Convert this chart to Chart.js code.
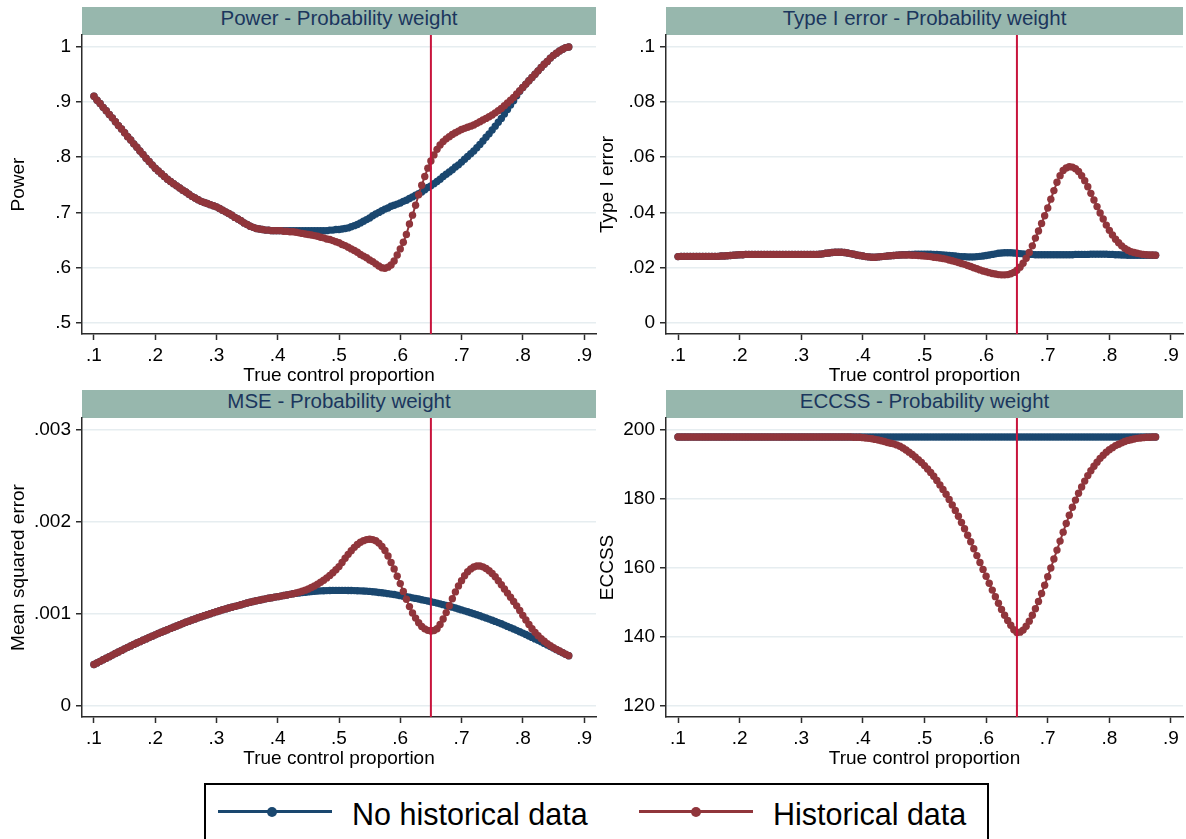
<!DOCTYPE html>
<html>
<head>
<meta charset="utf-8">
<script src="https://cdn.jsdelivr.net/npm/chart.js@4.4.0/dist/chart.umd.min.js"></script>
<style>
    body {
        margin: 0;
        width: 1186px;
        height: 839px;
        overflow: hidden;
        position: relative;
        background: #fff;
        font-family: 'Liberation Sans', Arial, sans-serif;
    }
    canvas { position: absolute; }
    .band {
        position: absolute;
        height: 28px;
        background: #97b7ad;
        color: #1b365d;
        font-size: 20.5px;
        line-height: 22px;
        text-align: center;
    }
    #legendBox {
        position: absolute;
        left: 204px;
        top: 783px;
        width: 781px;
        height: 80px;
        border: 2px solid #000;
    }
    .key-line { position: absolute; height: 3px; top: 810px; width: 114px; }
    .key-dot { position: absolute; width: 10px; height: 10px; border-radius: 50%; top: 807px; }
    .key-text { position: absolute; top: 797px; font-size: 30.5px; line-height: 34px; color: #000; white-space: nowrap; }
</style>
</head>
<body>
<div class="band" style="left:82px;top:7px;width:514px;">Power - Probability weight</div>
<div class="band" style="left:666px;top:7px;width:517px;">Type I error - Probability weight</div>
<div class="band" style="left:82px;top:390px;width:514px;">MSE - Probability weight</div>
<div class="band" style="left:666px;top:390px;width:517px;">ECCSS - Probability weight</div>

<canvas id="powerChart" width="616" height="375" style="left:0px;top:15px;"></canvas>
<canvas id="typeIChart" width="614" height="375" style="left:589px;top:15px;"></canvas>
<canvas id="mseChart" width="616" height="375" style="left:0px;top:398px;"></canvas>
<canvas id="eccssChart" width="614" height="375" style="left:589px;top:398px;"></canvas>

<div id="legendBox"></div>
<div class="key-line" style="left:218px;background:#1a476f;"></div>
<div class="key-dot" style="left:267px;background:#1a476f;"></div>
<div class="key-text" style="left:352px;">No historical data</div>
<div class="key-line" style="left:639px;background:#90353b;"></div>
<div class="key-dot" style="left:691px;background:#90353b;"></div>
<div class="key-text" style="left:773px;">Historical data</div>

<script>
// True control proportion (0.100 to 0.875 by 0.005)
const xValues = [
    0.100, 0.105, 0.110, 0.115, 0.120, 0.125, 0.130, 0.135, 0.140, 0.145,
    0.150, 0.155, 0.160, 0.165, 0.170, 0.175, 0.180, 0.185, 0.190, 0.195,
    0.200, 0.205, 0.210, 0.215, 0.220, 0.225, 0.230, 0.235, 0.240, 0.245,
    0.250, 0.255, 0.260, 0.265, 0.270, 0.275, 0.280, 0.285, 0.290, 0.295,
    0.300, 0.305, 0.310, 0.315, 0.320, 0.325, 0.330, 0.335, 0.340, 0.345,
    0.350, 0.355, 0.360, 0.365, 0.370, 0.375, 0.380, 0.385, 0.390, 0.395,
    0.400, 0.405, 0.410, 0.415, 0.420, 0.425, 0.430, 0.435, 0.440, 0.445,
    0.450, 0.455, 0.460, 0.465, 0.470, 0.475, 0.480, 0.485, 0.490, 0.495,
    0.500, 0.505, 0.510, 0.515, 0.520, 0.525, 0.530, 0.535, 0.540, 0.545,
    0.550, 0.555, 0.560, 0.565, 0.570, 0.575, 0.580, 0.585, 0.590, 0.595,
    0.600, 0.605, 0.610, 0.615, 0.620, 0.625, 0.630, 0.635, 0.640, 0.645,
    0.650, 0.655, 0.660, 0.665, 0.670, 0.675, 0.680, 0.685, 0.690, 0.695,
    0.700, 0.705, 0.710, 0.715, 0.720, 0.725, 0.730, 0.735, 0.740, 0.745,
    0.750, 0.755, 0.760, 0.765, 0.770, 0.775, 0.780, 0.785, 0.790, 0.795,
    0.800, 0.805, 0.810, 0.815, 0.820, 0.825, 0.830, 0.835, 0.840, 0.845,
    0.850, 0.855, 0.860, 0.865, 0.870, 0.875
];

const powerNoHist = [
    0.910, 0.903, 0.897, 0.890, 0.884, 0.877, 0.871, 0.864, 0.857, 0.851,
    0.844, 0.837, 0.831, 0.824, 0.818, 0.811, 0.805, 0.798, 0.792, 0.786,
    0.780, 0.775, 0.770, 0.765, 0.760, 0.756, 0.752, 0.748, 0.744, 0.740,
    0.737, 0.733, 0.729, 0.726, 0.723, 0.720, 0.718, 0.716, 0.714, 0.712,
    0.710, 0.707, 0.704, 0.701, 0.698, 0.695, 0.691, 0.688, 0.685, 0.681,
    0.678, 0.675, 0.673, 0.671, 0.670, 0.669, 0.668, 0.668, 0.667, 0.667,
    0.667, 0.667, 0.667, 0.667, 0.667, 0.667, 0.667, 0.667, 0.667, 0.667,
    0.667, 0.667, 0.667, 0.667, 0.667, 0.667, 0.667, 0.668, 0.668, 0.669,
    0.669, 0.670, 0.671, 0.672, 0.674, 0.676, 0.678, 0.681, 0.684, 0.687,
    0.690, 0.694, 0.697, 0.700, 0.703, 0.706, 0.708, 0.711, 0.713, 0.715,
    0.717, 0.720, 0.722, 0.725, 0.728, 0.731, 0.734, 0.737, 0.741, 0.745,
    0.748, 0.752, 0.756, 0.760, 0.765, 0.769, 0.773, 0.777, 0.782, 0.786,
    0.791, 0.796, 0.801, 0.806, 0.811, 0.817, 0.823, 0.829, 0.836, 0.842,
    0.849, 0.856, 0.863, 0.870, 0.878, 0.886, 0.894, 0.902, 0.911, 0.919,
    0.926, 0.932, 0.938, 0.944, 0.950, 0.956, 0.962, 0.968, 0.973, 0.979,
    0.984, 0.988, 0.992, 0.995, 0.998, 0.999
];
const powerHist = [
    0.910, 0.903, 0.897, 0.890, 0.884, 0.877, 0.871, 0.864, 0.857, 0.851,
    0.844, 0.837, 0.831, 0.824, 0.818, 0.811, 0.805, 0.798, 0.792, 0.786,
    0.780, 0.775, 0.770, 0.765, 0.760, 0.756, 0.752, 0.748, 0.744, 0.740,
    0.737, 0.733, 0.729, 0.726, 0.723, 0.720, 0.718, 0.716, 0.714, 0.712,
    0.710, 0.707, 0.704, 0.701, 0.698, 0.695, 0.691, 0.688, 0.685, 0.681,
    0.678, 0.675, 0.673, 0.671, 0.670, 0.669, 0.668, 0.668, 0.667, 0.667,
    0.667, 0.667, 0.666, 0.666, 0.665, 0.665, 0.664, 0.663, 0.662, 0.661,
    0.660, 0.659, 0.658, 0.657, 0.655, 0.654, 0.652, 0.651, 0.649, 0.647,
    0.645, 0.642, 0.640, 0.637, 0.634, 0.631, 0.628, 0.624, 0.621, 0.618,
    0.614, 0.611, 0.607, 0.603, 0.600, 0.599, 0.601, 0.605, 0.612, 0.623,
    0.634, 0.646, 0.660, 0.679, 0.695, 0.713, 0.732, 0.749, 0.765, 0.780,
    0.793, 0.804, 0.814, 0.822, 0.828, 0.833, 0.837, 0.841, 0.844, 0.847,
    0.850, 0.852, 0.854, 0.856, 0.858, 0.861, 0.864, 0.867, 0.870, 0.873,
    0.876, 0.880, 0.884, 0.888, 0.893, 0.898, 0.903, 0.908, 0.914, 0.920,
    0.926, 0.932, 0.938, 0.944, 0.950, 0.956, 0.962, 0.968, 0.973, 0.979,
    0.984, 0.988, 0.992, 0.995, 0.998, 0.999
];

const typeINoHist = [
    0.0240, 0.0241, 0.0241, 0.0241, 0.0241, 0.0241, 0.0241, 0.0241, 0.0241, 0.0241,
    0.0241, 0.0241, 0.0241, 0.0241, 0.0242, 0.0242, 0.0243, 0.0244, 0.0245, 0.0246,
    0.0247, 0.0247, 0.0248, 0.0248, 0.0248, 0.0248, 0.0248, 0.0248, 0.0248, 0.0248,
    0.0248, 0.0248, 0.0248, 0.0248, 0.0248, 0.0248, 0.0248, 0.0248, 0.0248, 0.0248,
    0.0248, 0.0248, 0.0248, 0.0248, 0.0248, 0.0248, 0.0249, 0.0250, 0.0252, 0.0253,
    0.0255, 0.0256, 0.0256, 0.0256, 0.0255, 0.0253, 0.0251, 0.0249, 0.0246, 0.0244,
    0.0242, 0.0240, 0.0239, 0.0238, 0.0238, 0.0239, 0.0240, 0.0241, 0.0242, 0.0243,
    0.0244, 0.0245, 0.0246, 0.0247, 0.0247, 0.0248, 0.0248, 0.0249, 0.0249, 0.0249,
    0.0249, 0.0249, 0.0249, 0.0248, 0.0248, 0.0247, 0.0246, 0.0245, 0.0244, 0.0243,
    0.0242, 0.0241, 0.0240, 0.0240, 0.0239, 0.0239, 0.0239, 0.0240, 0.0241, 0.0242,
    0.0244, 0.0246, 0.0248, 0.0250, 0.0252, 0.0253, 0.0254, 0.0254, 0.0254, 0.0253,
    0.0252, 0.0251, 0.0250, 0.0249, 0.0248, 0.0248, 0.0247, 0.0247, 0.0247, 0.0247,
    0.0247, 0.0247, 0.0247, 0.0247, 0.0247, 0.0247, 0.0247, 0.0247, 0.0247, 0.0248,
    0.0248, 0.0248, 0.0248, 0.0248, 0.0249, 0.0249, 0.0249, 0.0249, 0.0249, 0.0249,
    0.0248, 0.0248, 0.0247, 0.0247, 0.0246, 0.0246, 0.0245, 0.0245, 0.0245, 0.0245,
    0.0245, 0.0245, 0.0245, 0.0245, 0.0245, 0.0245
];
const typeIHist = [
    0.0240, 0.0241, 0.0241, 0.0241, 0.0241, 0.0241, 0.0241, 0.0241, 0.0241, 0.0241,
    0.0241, 0.0241, 0.0241, 0.0241, 0.0242, 0.0242, 0.0243, 0.0244, 0.0245, 0.0246,
    0.0247, 0.0247, 0.0248, 0.0248, 0.0248, 0.0248, 0.0248, 0.0248, 0.0248, 0.0248,
    0.0248, 0.0248, 0.0248, 0.0248, 0.0248, 0.0248, 0.0248, 0.0248, 0.0248, 0.0248,
    0.0248, 0.0248, 0.0248, 0.0248, 0.0248, 0.0248, 0.0249, 0.0250, 0.0252, 0.0253,
    0.0255, 0.0256, 0.0256, 0.0256, 0.0255, 0.0253, 0.0251, 0.0249, 0.0246, 0.0244,
    0.0242, 0.0240, 0.0239, 0.0238, 0.0238, 0.0239, 0.0240, 0.0241, 0.0242, 0.0243,
    0.0244, 0.0245, 0.0246, 0.0246, 0.0246, 0.0246, 0.0245, 0.0245, 0.0244, 0.0243,
    0.0242, 0.0241, 0.0240, 0.0238, 0.0237, 0.0235, 0.0233, 0.0231, 0.0228, 0.0225,
    0.0222, 0.0219, 0.0215, 0.0212, 0.0208, 0.0204, 0.0200, 0.0196, 0.0192, 0.0188,
    0.0185, 0.0182, 0.0179, 0.0177, 0.0175, 0.0174, 0.0174, 0.0175, 0.0178, 0.0183,
    0.0191, 0.0202, 0.0216, 0.0234, 0.0255, 0.0279, 0.0307, 0.0333, 0.0360, 0.0388,
    0.0416, 0.0448, 0.0479, 0.0509, 0.0533, 0.0552, 0.0561, 0.0565, 0.0564, 0.0558,
    0.0548, 0.0533, 0.0515, 0.0493, 0.0469, 0.0445, 0.0421, 0.0398, 0.0376, 0.0354,
    0.0335, 0.0318, 0.0303, 0.0290, 0.0279, 0.0270, 0.0263, 0.0258, 0.0255, 0.0252,
    0.0250, 0.0248, 0.0247, 0.0246, 0.0246, 0.0245
];

const mseNoHist = [
    0.000451, 0.000468, 0.000485, 0.000502, 0.000519, 0.000536, 0.000553, 0.000570, 0.000587, 0.000604,
    0.000621, 0.000637, 0.000653, 0.000669, 0.000684, 0.000699, 0.000714, 0.000729, 0.000744, 0.000759,
    0.000773, 0.000787, 0.000801, 0.000815, 0.000829, 0.000843, 0.000856, 0.000869, 0.000882, 0.000896,
    0.000910, 0.000922, 0.000934, 0.000946, 0.000958, 0.000970, 0.000981, 0.000992, 0.001003, 0.001014,
    0.001025, 0.001035, 0.001045, 0.001055, 0.001064, 0.001073, 0.001082, 0.001091, 0.001100, 0.001110,
    0.001119, 0.001127, 0.001135, 0.001143, 0.001150, 0.001157, 0.001164, 0.001171, 0.001177, 0.001183,
    0.001188, 0.001194, 0.001200, 0.001206, 0.001213, 0.001220, 0.001224, 0.001228, 0.001232, 0.001236,
    0.001240, 0.001243, 0.001246, 0.001249, 0.001251, 0.001253, 0.001254, 0.001255, 0.001256, 0.001256,
    0.001256, 0.001256, 0.001256, 0.001255, 0.001255, 0.001254, 0.001253, 0.001251, 0.001250, 0.001248,
    0.001245, 0.001242, 0.001238, 0.001234, 0.001230, 0.001226, 0.001221, 0.001216, 0.001211, 0.001205,
    0.001199, 0.001193, 0.001187, 0.001181, 0.001175, 0.001169, 0.001162, 0.001155, 0.001148, 0.001141,
    0.001134, 0.001126, 0.001118, 0.001110, 0.001101, 0.001092, 0.001083, 0.001074, 0.001064, 0.001054,
    0.001044, 0.001034, 0.001024, 0.001013, 0.001002, 0.000991, 0.000980, 0.000968, 0.000956, 0.000944,
    0.000932, 0.000919, 0.000906, 0.000893, 0.000879, 0.000865, 0.000851, 0.000837, 0.000822, 0.000807,
    0.000792, 0.000777, 0.000761, 0.000745, 0.000729, 0.000713, 0.000697, 0.000680, 0.000663, 0.000646,
    0.000629, 0.000612, 0.000595, 0.000578, 0.000561, 0.000545
];
const mseHist = [
    0.000451, 0.000468, 0.000485, 0.000502, 0.000519, 0.000536, 0.000553, 0.000570, 0.000587, 0.000604,
    0.000621, 0.000637, 0.000653, 0.000669, 0.000684, 0.000699, 0.000714, 0.000729, 0.000744, 0.000759,
    0.000773, 0.000787, 0.000801, 0.000815, 0.000829, 0.000843, 0.000856, 0.000869, 0.000882, 0.000896,
    0.000910, 0.000922, 0.000934, 0.000946, 0.000958, 0.000970, 0.000981, 0.000992, 0.001003, 0.001014,
    0.001025, 0.001035, 0.001045, 0.001055, 0.001064, 0.001073, 0.001082, 0.001091, 0.001100, 0.001110,
    0.001119, 0.001127, 0.001135, 0.001143, 0.001150, 0.001157, 0.001164, 0.001171, 0.001177, 0.001183,
    0.001188, 0.001194, 0.001200, 0.001206, 0.001213, 0.001220, 0.001228, 0.001237, 0.001247, 0.001259,
    0.001272, 0.001287, 0.001304, 0.001323, 0.001344, 0.001367, 0.001392, 0.001419, 0.001448, 0.001480,
    0.001515, 0.001560, 0.001605, 0.001648, 0.001688, 0.001724, 0.001755, 0.001780, 0.001797, 0.001808,
    0.001812, 0.001808, 0.001795, 0.001770, 0.001735, 0.001690, 0.001630, 0.001560, 0.001490, 0.001410,
    0.001330, 0.001245, 0.001160, 0.001080, 0.001010, 0.000955, 0.000905, 0.000865, 0.000838, 0.000822,
    0.000815, 0.000820, 0.000840, 0.000885, 0.000945, 0.001015, 0.001090, 0.001165, 0.001240, 0.001305,
    0.001362, 0.001415, 0.001458, 0.001490, 0.001510, 0.001521, 0.001522, 0.001512, 0.001494, 0.001470,
    0.001440, 0.001405, 0.001362, 0.001318, 0.001272, 0.001227, 0.001182, 0.001135, 0.001088, 0.001038,
    0.000985, 0.000935, 0.000885, 0.000840, 0.000800, 0.000764, 0.000732, 0.000704, 0.000678, 0.000655,
    0.000634, 0.000615, 0.000597, 0.000580, 0.000563, 0.000547
];

const eccssNoHist = [
    198, 198, 198, 198, 198, 198, 198, 198, 198, 198,
    198, 198, 198, 198, 198, 198, 198, 198, 198, 198,
    198, 198, 198, 198, 198, 198, 198, 198, 198, 198,
    198, 198, 198, 198, 198, 198, 198, 198, 198, 198,
    198, 198, 198, 198, 198, 198, 198, 198, 198, 198,
    198, 198, 198, 198, 198, 198, 198, 198, 198, 198,
    198, 198, 198, 198, 198, 198, 198, 198, 198, 198,
    198, 198, 198, 198, 198, 198, 198, 198, 198, 198,
    198, 198, 198, 198, 198, 198, 198, 198, 198, 198,
    198, 198, 198, 198, 198, 198, 198, 198, 198, 198,
    198, 198, 198, 198, 198, 198, 198, 198, 198, 198,
    198, 198, 198, 198, 198, 198, 198, 198, 198, 198,
    198, 198, 198, 198, 198, 198, 198, 198, 198, 198,
    198, 198, 198, 198, 198, 198, 198, 198, 198, 198,
    198, 198, 198, 198, 198, 198, 198, 198, 198, 198,
    198, 198, 198, 198, 198, 198
];
const eccssHist = [
    198, 198, 198, 198, 198, 198, 198, 198, 198, 198,
    198, 198, 198, 198, 198, 198, 198, 198, 198, 198,
    198, 198, 198, 198, 198, 198, 198, 198, 198, 198,
    198, 198, 198, 198, 198, 198, 198, 198, 198, 198,
    198, 198, 198, 198, 198, 198, 198, 198, 198, 198,
    198, 198, 198, 198, 198, 198, 198, 197.9, 197.9, 197.9,
    197.8, 197.7, 197.6, 197.5, 197.3, 197.1, 196.9, 196.7, 196.4, 196.2,
    196.0, 195.7, 195.3, 194.8, 194.2, 193.6, 192.9, 192.2, 191.4, 190.6,
    189.7, 188.7, 187.7, 186.6, 185.4, 184.1, 182.8, 181.4, 179.9, 178.3,
    176.7, 175.0, 173.2, 171.4, 169.5, 167.6, 165.6, 163.6, 161.6, 159.6,
    157.6, 155.6, 153.6, 151.7, 149.8, 148.0, 146.3, 144.8, 143.4, 142.1,
    141.3, 141.4, 142.0, 143.1, 144.6, 146.3, 148.2, 150.3, 152.6, 155.0,
    157.5, 160.0, 162.6, 165.2, 167.8, 170.4, 172.9, 175.3, 177.6, 179.7,
    181.7, 183.5, 185.2, 186.8, 188.2, 189.5, 190.7, 191.8, 192.7, 193.6,
    194.3, 194.9, 195.5, 195.9, 196.3, 196.7, 197.0, 197.2, 197.4, 197.6,
    197.7, 197.8, 197.9, 197.9, 198.0, 198.0
];

// Axis ticks, Stata style labels
const xTicks = [0.1, 0.2, 0.3, 0.4, 0.5, 0.6, 0.7, 0.8, 0.9];
const xTickLabels = ['.1', '.2', '.3', '.4', '.5', '.6', '.7', '.8', '.9'];
const powerTicks = [0.5, 0.6, 0.7, 0.8, 0.9, 1];
const powerTickLabels = ['.5', '.6', '.7', '.8', '.9', '1'];
const typeITicks = [0, 0.02, 0.04, 0.06, 0.08, 0.1];
const typeITickLabels = ['0', '.02', '.04', '.06', '.08', '.1'];
const mseTicks = [0, 0.001, 0.002, 0.003];
const mseTickLabels = ['0', '.001', '.002', '.003'];
const eccssTicks = [120, 140, 160, 180, 200];
const eccssTickLabels = ['120', '140', '160', '180', '200'];

// Assumed true control proportion (reference line)
const refLine = 0.65;

const BLUE = '#1a476f';
const RED = '#90353b';
const AXIS = '#2b2b2b';

Chart.defaults.font.family = "'Liberation Sans', Arial, sans-serif";
Chart.defaults.font.size = 19;
Chart.defaults.color = '#000';

const refLinePlugin = {
    id: 'refLine',
    afterDatasetsDraw(chart) {
        const { ctx, chartArea, scales } = chart;
        const px = scales.x.getPixelForValue(refLine);
        ctx.save();
        ctx.strokeStyle = '#c8143c';
        ctx.lineWidth = 2;
        ctx.beginPath();
        ctx.moveTo(px, chartArea.top);
        ctx.lineTo(px, chartArea.bottom);
        ctx.stroke();
        ctx.restore();
    }
};

function makeSeries(label, values, color, order) {
    return {
        label: label,
        data: xValues.map((x, i) => ({ x: x, y: values[i] })),
        borderColor: color,
        backgroundColor: color,
        pointBackgroundColor: color,
        pointBorderWidth: 0,
        pointRadius: 3.7,
        pointHoverRadius: 3.7,
        borderWidth: 2,
        tension: 0,
        order: order
    };
}

function drawPanel(cfg) {
    const ctx = document.getElementById(cfg.id);
    if (!ctx) return;

    new Chart(ctx, {
        type: 'line',
        data: {
            datasets: [
                makeSeries('Historical data', cfg.hist, RED, 0),
                makeSeries('No historical data', cfg.noHist, BLUE, 1)
            ]
        },
        plugins: [refLinePlugin],
        options: {
            responsive: false,
            animation: false,
            events: [],
            layout: { padding: { top: 20, right: 20, left: 0, bottom: 0 } },
            plugins: {
                legend: { display: false },
                tooltip: { enabled: false }
            },
            scales: {
                x: {
                    type: 'linear',
                    min: 0.0805,
                    max: 0.9195,
                    afterBuildTicks: s => { s.ticks = xTicks.map(v => ({ value: v })); },
                    afterFit: s => { s.height = 56; },
                    ticks: {
                        callback: (v, i) => xTickLabels[i],
                        padding: 4,
                        maxRotation: 0,
                        autoSkip: false
                    },
                    grid: {
                        drawOnChartArea: false,
                        tickColor: AXIS,
                        tickLength: 6,
                        tickWidth: 1.5
                    },
                    border: { display: true, color: AXIS, width: 1.5 },
                    title: {
                        display: true,
                        text: 'True control proportion',
                        padding: { top: 0, bottom: 3 }
                    }
                },
                y: {
                    type: 'linear',
                    min: cfg.yMin,
                    max: cfg.yMax,
                    afterBuildTicks: s => { s.ticks = cfg.yTicks.map(v => ({ value: v })); },
                    afterFit: s => { s.width = cfg.axisWidth; },
                    ticks: {
                        callback: (v, i) => cfg.yLabels[i],
                        padding: 5
                    },
                    grid: {
                        color: '#e6edf0',
                        lineWidth: 1.5,
                        tickColor: AXIS,
                        tickLength: 6,
                        tickWidth: 1.5
                    },
                    border: { display: true, color: AXIS, width: 1.5 },
                    title: {
                        display: true,
                        text: cfg.yTitle,
                        padding: { top: 7, bottom: 0 }
                    }
                }
            }
        }
    });
}

document.addEventListener('DOMContentLoaded', function () {
    drawPanel({
        id: 'powerChart', noHist: powerNoHist, hist: powerHist, yTitle: 'Power',
        yTicks: powerTicks, yLabels: powerTickLabels, yMin: 0.4801, yMax: 1.0208, axisWidth: 82
    });
    drawPanel({
        id: 'typeIChart', noHist: typeINoHist, hist: typeIHist, yTitle: 'Type I error',
        yTicks: typeITicks, yLabels: typeITickLabels, yMin: -0.004, yMax: 0.1042, axisWidth: 77
    });
    drawPanel({
        id: 'mseChart', noHist: mseNoHist, hist: mseHist, yTitle: 'Mean squared error',
        yTicks: mseTicks, yLabels: mseTickLabels, yMin: -0.00012, yMax: 0.00313, axisWidth: 82
    });
    drawPanel({
        id: 'eccssChart', noHist: eccssNoHist, hist: eccssHist, yTitle: 'ECCSS',
        yTicks: eccssTicks, yLabels: eccssTickLabels, yMin: 116.8, yMax: 203.5, axisWidth: 77
    });
});
</script>
</body>
</html>
